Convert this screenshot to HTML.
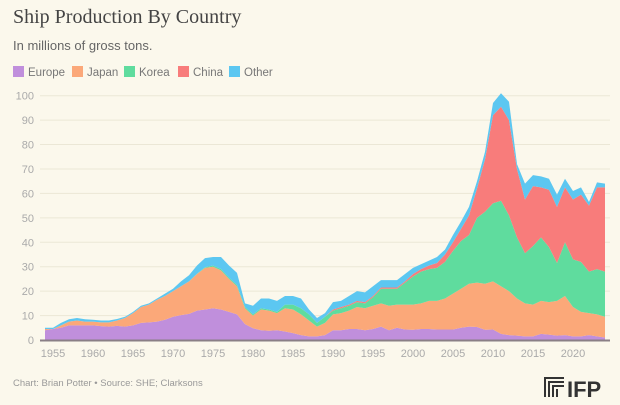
<!DOCTYPE html>
<html><head><meta charset="utf-8"><style>
body{margin:0;background:#fbf8ec;width:620px;height:405px;overflow:hidden;font-family:"Liberation Sans",sans-serif;}
svg{display:block}
</style></head><body>
<svg id="c" width="620" height="405" viewBox="0 0 620 405">
<rect width="620" height="405" fill="#fbf8ec"/>
<text x="13" y="23" font-family="Liberation Serif, serif" font-size="20" fill="#444">Ship Production By Country</text>
<text x="13" y="50" font-size="13" fill="#666">In millions of gross tons.</text>
<g id="legend"></g>
<g id="grid"></g>
<g id="areas"></g>
<line x1="40" y1="340.5" x2="610" y2="340.5" stroke="#8a7f86" stroke-width="2"/>
<g id="xt"></g>
<text x="13" y="386" font-size="9.5" fill="#999">Chart: Brian Potter • Source: SHE; Clarksons</text>
<g>
<g fill="#333"><rect x="544" y="377" width="2" height="20"/><rect x="548" y="381" width="2" height="16"/><rect x="552" y="385" width="2" height="12"/><rect x="556" y="389" width="2" height="8"/><rect x="544" y="377" width="20" height="2"/><rect x="548" y="381" width="16" height="2"/><rect x="552" y="385" width="12" height="2"/></g>
<text x="567" y="397" font-size="22" font-weight="bold" fill="#333">IFP</text>
</g>
</svg>
<script>
const years=[];for(let y=1954;y<=2024;y++)years.push(y);
const europe=[4,4.5,5,6,6,6,6,5.7,5.5,5.8,5.5,6,7,7.2,7.5,8.3,9.5,10.2,10.7,12,12.5,13,12.5,11.5,10.5,6.5,4.8,4,3.8,4,3.5,2.8,2,1.5,1.5,2,4,4,4.5,4.5,4,4.5,5.5,4,5,4.3,4.2,4.5,4.5,4.3,4.3,4.3,5,5.5,5.3,4.2,4.3,2.5,2,1.8,1.5,1.5,2.5,2.2,1.8,2,1.5,1.5,2,1.5,1];
const japan=[0.5,0,1,1.5,2,1.5,1.5,1.5,1.7,2.2,3.5,5,6.5,7.3,9,9.7,10.5,11.8,13.3,15,17,17,16,13.5,11.5,6.5,5.2,8.5,8.2,7,9.5,9.7,8.5,6.5,4,5,6.5,7,7.5,9,9,9.5,9.5,10,9.5,10.2,10.3,10.5,11.5,11.7,12.7,14.7,16,17.5,18.2,18.8,19.7,19.5,18,15.2,13.5,13,13.5,13.3,14.2,16,12,10,9,9,8.5];
const korea=[0,0,0,0,0,0,0,0,0,0,0,0,0,0,0,0,0,0,0,0.1,0.3,0.5,0.5,0.5,0.5,0.5,0.5,0.5,0.5,0.5,1.5,2,2.5,2.5,1.5,2.5,1.5,2,2,2,2,3.5,6,7,6.5,9,11.5,13,13,13.5,15,17.5,19.5,20,26.5,29.5,32,35,31,25,20.5,24,26,22.5,15.5,22,19.5,20.5,17,18.5,18.5];
const china=[0,0,0,0,0,0,0,0,0,0,0,0,0,0,0,0,0,0,0,0,0,0,0,0,0,0,0,0,0,0,0,0,0,0,0,0,0.5,0.5,0.5,0.5,0.5,0.5,0.5,0.5,0.5,0.5,1,1,1.5,2,3,3.5,5,8,12,21.5,36,38.5,39,28,22,24.5,20.5,23.5,23,22.5,24.5,27.5,27,33.5,34.5];
const other=[0.5,0.5,1,1,1,1,0.8,0.8,0.8,0.6,0.5,0.5,0.5,0.5,0.5,1,1,2,2.5,3.4,3.7,3.5,5,5,5,1.5,3.5,4,4.5,4.5,3.5,3.5,4,2,2,1.5,3,2.5,3.5,4,4,4,3,3,3,3,2.5,2,2,2.5,2,3,3,3.5,3,3,5,5.5,7.5,2,6.5,4.5,4.5,4.5,5,3.5,3.5,3,1.5,2,1.5];
const seriesNames=["Europe","Japan","Korea","China","Other"];
const seriesColors=["#c08fdc","#fba879","#5fdc9e","#f87c7b","#5cc7f1"];
const yTicks=[0,10,20,30,40,50,60,70,80,90,100];
const xTicks=[1955,1960,1965,1970,1975,1980,1985,1990,1995,2000,2005,2010,2015,2020];
const NS="http://www.w3.org/2000/svg";
const X=y=>53+(y-1955)*8;
const Y=v=>340-v*2.443;
function mk(t,a,p){const e=document.createElementNS(NS,t);for(const k in a)e.setAttribute(k,a[k]);p.appendChild(e);return e;}
const grid=document.getElementById('grid');
yTicks.forEach(v=>{
 const l=mk('line',{x1:40,x2:610,y1:Y(v),y2:Y(v),stroke:'#ebe7d6','stroke-width':1},grid);
 
 
 const t=mk('text',{x:34,y:Y(v)+4,'text-anchor':'end','font-size':11,fill:'#aaa'},grid);
 t.textContent=v;
 
 
});
const xt=document.getElementById('xt');
xTicks.forEach(v=>{
 const t=mk('text',{x:X(v),y:357,'text-anchor':'middle','font-size':11,fill:'#aaa'},xt);
 t.textContent=v;
 
 
});
const all=[europe,japan,korea,china,other];
const areas=document.getElementById('areas');
let base=years.map(()=>0);
all.forEach((s,i)=>{
 const top=base.map((b,j)=>b+s[j]);
 let d='M'+years.map((y,j)=>X(y)+','+Y(top[j])).join('L');
 for(let j=years.length-1;j>=0;j--)d+='L'+X(years[j])+','+Y(base[j]);
 d+='Z';
 const p=mk('path',{d:d,fill:seriesColors[i]},areas);
 
 
 base=top;
});
const lg=document.getElementById('legend');
const lx=[13,72,124,178,229];
seriesNames.forEach((n,i)=>{
 const r=mk('rect',{x:lx[i],y:66,width:11,height:11,fill:seriesColors[i]},lg);
 
 
 const t=mk('text',{x:lx[i]+15,y:76,'font-size':11.5,fill:'#777'},lg);
 t.textContent=n;
 
 
});
</script>
</body></html>
